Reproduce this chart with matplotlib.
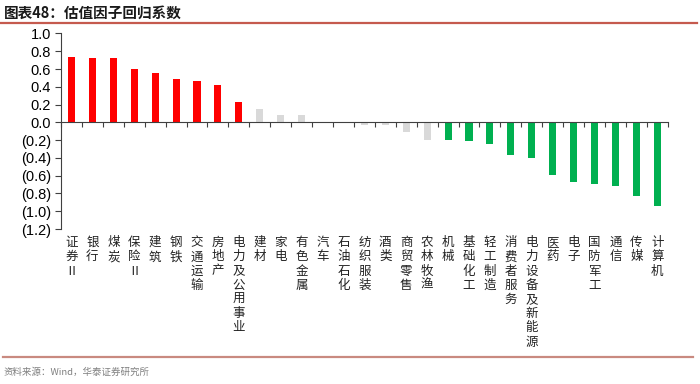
import numpy as np
import matplotlib
matplotlib.use("Agg")
import matplotlib.pyplot as plt
from matplotlib.ticker import FuncFormatter, FixedLocator
from matplotlib.lines import Line2D

plt.rcParams['font.family'] = ['Noto Sans CJK SC', 'DejaVu Sans']

# data
industries = [
    "证券Ⅱ", "银行", "煤炭", "保险Ⅱ", "建筑", "钢铁", "交通运输", "房地产",
    "电力及公用事业", "建材", "家电", "有色金属", "汽车", "石油石化", "纺织服装",
    "酒类", "商贸零售", "农林牧渔", "机械", "基础化工", "轻工制造", "消费者服务",
    "电力设备及新能源", "医药", "电子", "国防军工", "通信", "传媒", "计算机",
]
coef = [
    0.73, 0.72, 0.72, 0.60, 0.55, 0.49, 0.46, 0.42,
    0.225, 0.15, 0.085, 0.085, 0.004, -0.005, -0.025,
    -0.035, -0.105, -0.20, -0.20, -0.21, -0.245, -0.37,
    -0.40, -0.59, -0.675, -0.69, -0.72, -0.83, -0.94,
]
# significance group: 1 = significant positive, 0 = not significant, -1 = significant negative
signif = [1] * 9 + [0] * 9 + [-1] * 11

title = "图表48：估值因子回归系数"
source = "资料来源：Wind，华泰证券研究所"

colors = {1: "#FF0000", 0: "#D9D9D9", -1: "#00B050"}
bar_colors = [colors[s] for s in signif]

fig = plt.figure(figsize=(7, 3.84), dpi=100)
ax = fig.add_axes([0.0871, 0.4036, 0.8669, 0.5092])

x = np.arange(len(industries))
ax.bar(x, coef, width=0.34, color=bar_colors, zorder=2)

ax.set_xlim(-0.5, len(industries) - 0.5)
ax.set_ylim(-1.2, 1.0)

# y axis
ax.yaxis.set_major_locator(FixedLocator(np.round(np.arange(-1.2, 1.01, 0.2), 1)))
ax.yaxis.set_major_formatter(FuncFormatter(
    lambda v, p: f"({abs(v):.1f})" if v < -1e-9 else f"{abs(v):.1f}"))
for lab in ax.get_yticklabels():
    lab.set_fontfamily("Liberation Sans")
ax.tick_params(axis="y", direction="out", length=4, width=0.8, colors="#404040",
               labelsize=10.5, labelcolor="black", pad=3)

# x axis at zero, ticks between categories
ax.spines["bottom"].set_position(("data", 0))
ax.spines["bottom"].set_color("#404040")
ax.spines["left"].set_color("#404040")
ax.spines["top"].set_visible(False)
ax.spines["right"].set_visible(False)
ax.set_xticks(np.arange(-0.5, len(industries), 1.0))
ax.set_xticklabels([])
ax.tick_params(axis="x", direction="out", length=3.5, width=0.8, colors="#404040")

# vertical stacked category labels below the plot
for i, name in enumerate(industries):
    ax.text(i, -1.28, "\n".join(name), ha="center", va="top",
            fontsize=9, linespacing=1.12, color="#222222")

# header, rules and source
fig.text(0.005, 0.968, title, ha="left", va="center", fontsize=10.5,
         fontweight="bold", color="#1a1a1a")
fig.add_artist(Line2D([0.0, 0.996], [0.9414, 0.9414], color="#C55A4E", lw=1.6))
fig.add_artist(Line2D([0.004, 0.99], [0.0703, 0.0703], color="#C98A80", lw=1.6))
fig.text(0.005, 0.031, source, ha="left", va="center", fontsize=6.8, color="#7f7f7f")

fig.savefig("out.png", dpi=100)
